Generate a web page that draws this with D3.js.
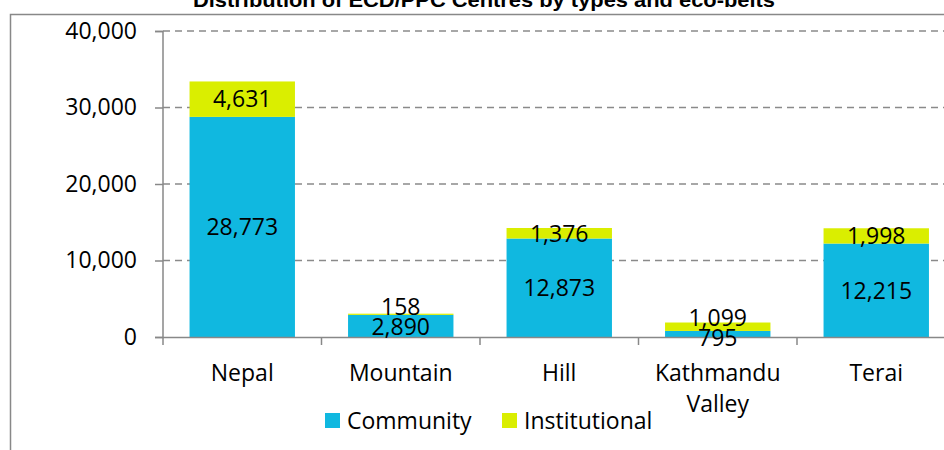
<!DOCTYPE html>
<html>
<head>
<meta charset="utf-8">
<script src="https://cdn.jsdelivr.net/npm/d3@7"></script>
<style>
  body { margin: 0; background: #fff; }
  svg { display: block; }
</style>
</head>
<body>
<div id="chart"></div>
<script>
const categories = ['Nepal', 'Mountain', 'Hill', 'Kathmandu Valley', 'Terai']
const community = [28773, 2890, 12873, 795, 12215]
const institutional = [4631, 158, 1376, 1099, 1998]
const yTicks = [0, 10000, 20000, 30000, 40000]
const seriesNames = ['Community', 'Institutional']
const colors = ['#10b8e0', '#daee00']

const width = 944, height = 450
const labelFont = '"Open Sans", sans-serif'
const labelSize = '23px'

const svg = d3.select('#chart').append('svg')
  .attr('width', width)
  .attr('height', height)

// outer frame (partly cropped)
svg.append('path')
  .attr('d', 'M10.5,450 V14.5 H944')
  .attr('fill', 'none')
  .attr('stroke', '#888')
  .attr('stroke-width', 1.5)

svg.append('text')
  .attr('x', 484)
  .attr('y', 7)
  .attr('text-anchor', 'middle')
  .attr('textLength', 582)
  .attr('lengthAdjust', 'spacingAndGlyphs')
  .style('font-family', '"Liberation Sans", Arial, sans-serif')
  .style('font-weight', 'bold')
  .style('font-size', '21px')
  .text('Distribution of ECD/PPC Centres by types and eco-belts')

let x = d3.scaleBand()
  .domain(categories)
  .range([163, 955.5])
  .padding(0)
let y = d3.scaleLinear()
  .domain([0, 40000])
  .range([337, 31])

const barW = x.bandwidth() * 0.665

// gridlines
svg.append('g').selectAll('line')
  .data(yTicks.filter(d => d > 0))
  .enter().append('line')
  .attr('x1', 163).attr('x2', width)
  .attr('y1', d => y(d)).attr('y2', d => y(d))
  .attr('stroke', '#8a8a8a')
  .attr('stroke-width', 1.5)
  .attr('stroke-dasharray', '7,5')

// stacked bars
let rows = categories.map((c, i) => ({cat: c, Community: community[i], Institutional: institutional[i]}))
let stacked = d3.stack().keys(seriesNames)(rows)

stacked.forEach((layer, li) => {
  svg.append('g').selectAll('rect')
    .data(layer)
    .enter().append('rect')
    .attr('x', d => x(d.data.cat) + (x.bandwidth() - barW) / 2)
    .attr('width', barW)
    .attr('y', d => y(d[1]))
    .attr('height', d => y(d[0]) - y(d[1]))
    .attr('fill', colors[li])
})

// axes
let yAxis = svg.append('g')
  .attr('transform', 'translate(163,0)')
  .call(d3.axisLeft(y).tickValues(yTicks).tickSize(8).tickPadding(18).tickFormat(d3.format(',')))
let xAxis = svg.append('g')
  .attr('transform', 'translate(0,337)')
  .call(d3.axisBottom(x).tickSize(0).tickFormat(''))

// boundary ticks on the category axis
xAxis.selectAll('.bound')
  .data(categories)
  .enter().append('line')
  .attr('class', 'bound')
  .attr('x1', d => x(d)).attr('x2', d => x(d))
  .attr('y1', 0).attr('y2', 8)

;[yAxis, xAxis].forEach(g => {
  g.select('.domain').attr('stroke', '#888').attr('stroke-width', 1.5)
  g.selectAll('line').attr('stroke', '#888').attr('stroke-width', 1.5)
  g.selectAll('text')
    .attr('fill', '#000')
    .style('font-family', labelFont)
    .style('font-size', labelSize)
})
yAxis.select('.domain').attr('d', 'M-8,31.5H0V337.5H-8')
xAxis.select('.domain').attr('d', 'M163,0.5H' + width)

// category labels
svg.append('g').selectAll('text')
  .data(categories)
  .enter().append('text')
  .attr('x', d => x(d) + x.bandwidth() / 2)
  .attr('y', 381)
  .attr('text-anchor', 'middle')
  .style('font-family', labelFont)
  .style('font-size', labelSize)
  .each(function(d) {
    let words = d === 'Kathmandu Valley' ? ['Kathmandu', 'Valley'] : [d]
    words.forEach((w, k) => {
      d3.select(this).append('tspan')
        .attr('x', x(d) + x.bandwidth() / 2)
        .attr('dy', k === 0 ? 0 : 31)
        .text(w)
    })
  })

// value labels, centred in each segment, pushed apart when too close
const minGap = 20
categories.forEach((c, i) => {
  let lo = stacked[0][i], hi = stacked[1][i]
  let yc = y((lo[0] + lo[1]) / 2)
  let yi = y((hi[0] + hi[1]) / 2)
  if (yc - yi < minGap) {
    let mid = (yc + yi) / 2
    yc = mid + minGap / 2 - 3
    yi = mid - minGap / 2 - 3
  }
  let cx = x(c) + x.bandwidth() / 2
  ;[[yc, community[i]], [yi, institutional[i]]].forEach(p => {
    svg.append('text')
      .attr('x', cx)
      .attr('y', p[0])
      .attr('dy', '0.36em')
      .attr('text-anchor', 'middle')
      .style('font-family', labelFont)
      .style('font-size', labelSize)
      .text(d3.format(',')(p[1]))
  })
})

// legend
let legend = svg.append('g')
const legendX = [325, 502]
seriesNames.forEach((name, k) => {
  legend.append('rect')
    .attr('x', legendX[k]).attr('y', 413)
    .attr('width', 15).attr('height', 15)
    .attr('fill', colors[k])
  legend.append('text')
    .attr('x', legendX[k] + 22)
    .attr('y', 421)
    .attr('dy', '0.36em')
    .style('font-family', labelFont)
    .style('font-size', labelSize)
    .text(name)
})
</script>
</body>
</html>
